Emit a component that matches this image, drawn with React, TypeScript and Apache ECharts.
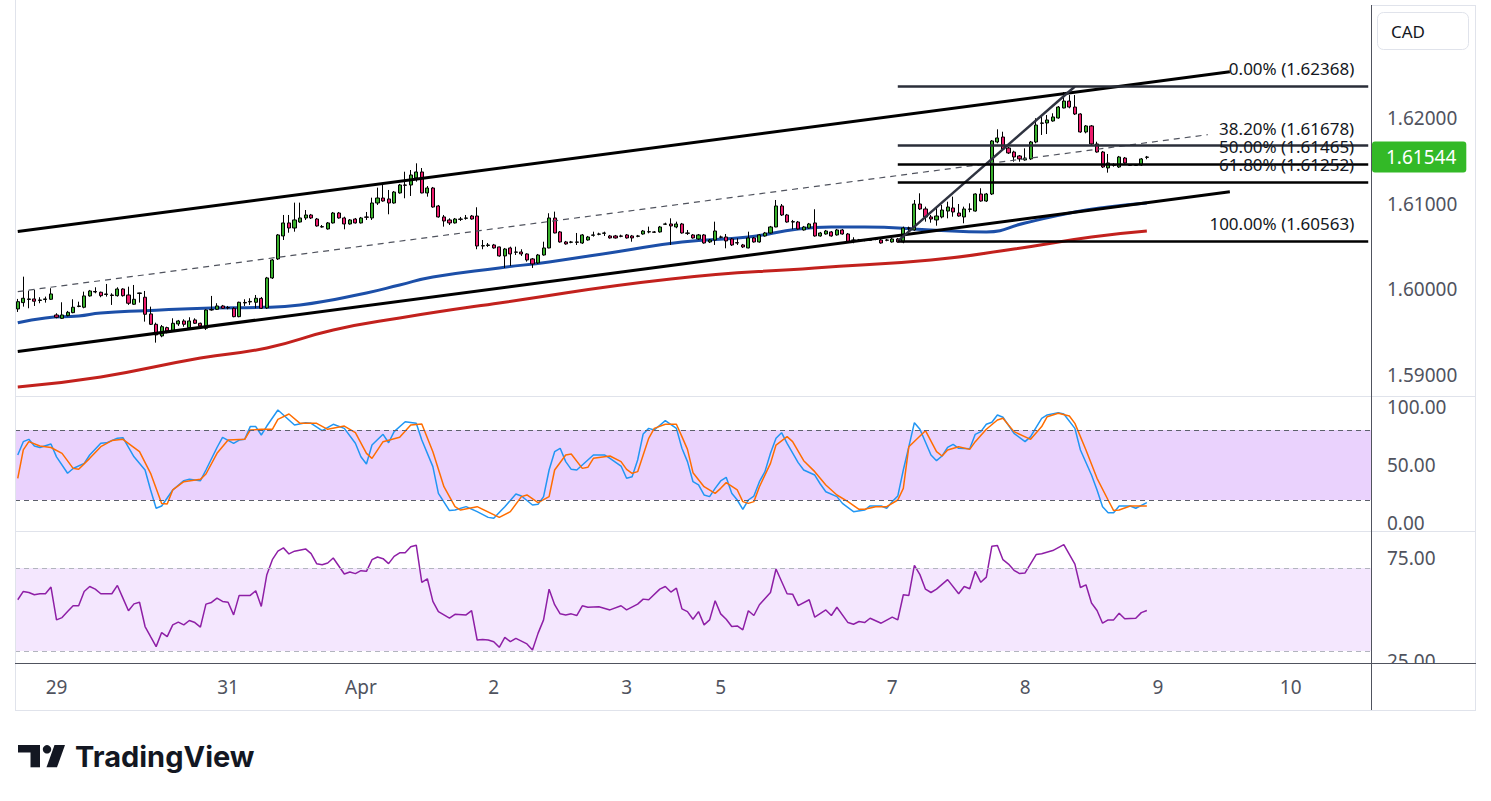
import { useEffect, useRef } from 'react';
import * as echarts from 'echarts';

const FONT = "'Noto Sans', 'Open Sans', sans-serif";

// hourly candles, [open, close, low, high]
const candles: number[][] = [
  [1.59771, 1.59856, 1.59736, 1.59888], [1.59845, 1.59896, 1.59798, 1.60148], [1.59888, 1.59882, 1.59779, 1.59985],
  [1.59888, 1.59861, 1.59806, 1.59993], [1.5987, 1.59876, 1.59838, 1.59908], [1.59882, 1.59888, 1.59845, 1.59915],
  [1.59884, 1.59946, 1.59876, 1.60013], [1.59701, 1.59674, 1.59662, 1.59721], [1.59662, 1.59701, 1.59654, 1.59849],
  [1.59693, 1.59732, 1.59684, 1.59748], [1.59728, 1.59791, 1.59721, 1.59884], [1.598, 1.59806, 1.59791, 1.59856],
  [1.59791, 1.59923, 1.59779, 1.59973], [1.59923, 1.59981, 1.59915, 1.59993], [1.59975, 1.59969, 1.59954, 1.60024],
  [1.59966, 1.59926, 1.59908, 1.59973], [1.5994, 1.59946, 1.59915, 1.60063], [1.59934, 1.59928, 1.59818, 1.59954],
  [1.59926, 1.60004, 1.59915, 1.60024], [1.60004, 1.59926, 1.59915, 1.60013], [1.59934, 1.59838, 1.59818, 1.60031],
  [1.59826, 1.59884, 1.59818, 1.60051], [1.59952, 1.59958, 1.59845, 1.59961], [1.59908, 1.59709, 1.59623, 1.59981],
  [1.59713, 1.59592, 1.59584, 1.59798], [1.59592, 1.59468, 1.59378, 1.59611], [1.59456, 1.59564, 1.59441, 1.59584],
  [1.59553, 1.59514, 1.59487, 1.59564], [1.59514, 1.59604, 1.59506, 1.59662], [1.59596, 1.59631, 1.59573, 1.59643],
  [1.59631, 1.59592, 1.59564, 1.59651], [1.59553, 1.59631, 1.59546, 1.59674], [1.59643, 1.59604, 1.59596, 1.59662],
  [1.59604, 1.59573, 1.59564, 1.59611], [1.59546, 1.59759, 1.59526, 1.59767], [1.59759, 1.59765, 1.59751, 1.59923],
  [1.59767, 1.59806, 1.59759, 1.59838], [1.59806, 1.59779, 1.59771, 1.59818], [1.59788, 1.59783, 1.59767, 1.59806],
  [1.59779, 1.59681, 1.59674, 1.59791], [1.59681, 1.59849, 1.59674, 1.59856], [1.59847, 1.59841, 1.59806, 1.59884],
  [1.59853, 1.59859, 1.59818, 1.59896], [1.59849, 1.59896, 1.59779, 1.59934], [1.59894, 1.59779, 1.59771, 1.59911],
  [1.59783, 1.60133, 1.59771, 1.60145], [1.60133, 1.60343, 1.60121, 1.60355], [1.60355, 1.60635, 1.60343, 1.60646],
  [1.60623, 1.60775, 1.60576, 1.60868], [1.60775, 1.60716, 1.60661, 1.60868], [1.60716, 1.6081, 1.60673, 1.61012],
  [1.60786, 1.60833, 1.60778, 1.61012], [1.60833, 1.60868, 1.6081, 1.60926], [1.60868, 1.60833, 1.60821, 1.6088],
  [1.60821, 1.6074, 1.60732, 1.60833], [1.60732, 1.60728, 1.6072, 1.60751], [1.60705, 1.60775, 1.60697, 1.60786],
  [1.60775, 1.60891, 1.60768, 1.60903], [1.60891, 1.60833, 1.60825, 1.60903], [1.60833, 1.60763, 1.60701, 1.60848],
  [1.60763, 1.6081, 1.60755, 1.60821], [1.60821, 1.60775, 1.60768, 1.60833], [1.60775, 1.60833, 1.60768, 1.60845],
  [1.60845, 1.60841, 1.6081, 1.60903], [1.60833, 1.61008, 1.6081, 1.6107], [1.61008, 1.61066, 1.60985, 1.61187],
  [1.61066, 1.61031, 1.61023, 1.61218], [1.61055, 1.61008, 1.60876, 1.6116], [1.61008, 1.61136, 1.61, 1.61148],
  [1.61125, 1.61218, 1.61117, 1.6123], [1.61218, 1.61215, 1.61063, 1.61373], [1.61218, 1.61335, 1.6109, 1.61393],
  [1.613, 1.6137, 1.61257, 1.61471], [1.6137, 1.61125, 1.61121, 1.61416], [1.61125, 1.61183, 1.61082, 1.61206],
  [1.61183, 1.60961, 1.60953, 1.61195], [1.60973, 1.60845, 1.60837, 1.60985], [1.60845, 1.60798, 1.60732, 1.60868],
  [1.6081, 1.60775, 1.60751, 1.60829], [1.60775, 1.60821, 1.60768, 1.60833], [1.60821, 1.60817, 1.60798, 1.60845],
  [1.60829, 1.60833, 1.60813, 1.60868], [1.60856, 1.60821, 1.60813, 1.60868], [1.60856, 1.60506, 1.60468, 1.60958],
  [1.60506, 1.6051, 1.60468, 1.60576], [1.60512, 1.60518, 1.60495, 1.60541], [1.60518, 1.60483, 1.60475, 1.6053],
  [1.60495, 1.6039, 1.60381, 1.60498], [1.6039, 1.60471, 1.6025, 1.60483], [1.60483, 1.60413, 1.60273, 1.60498],
  [1.60436, 1.60433, 1.60401, 1.60498], [1.60436, 1.60413, 1.6039, 1.60468], [1.60413, 1.60343, 1.60323, 1.60421],
  [1.60355, 1.60296, 1.6025, 1.60366], [1.60308, 1.60401, 1.60296, 1.60413], [1.60401, 1.60483, 1.60393, 1.60556],
  [1.60483, 1.60833, 1.60479, 1.60888], [1.60833, 1.60658, 1.60654, 1.60907], [1.6067, 1.60553, 1.60545, 1.60681],
  [1.60553, 1.6053, 1.60521, 1.60565], [1.60549, 1.60553, 1.60538, 1.60565], [1.60553, 1.60549, 1.60518, 1.60658],
  [1.60541, 1.60635, 1.6053, 1.60646], [1.60576, 1.60611, 1.60568, 1.60623], [1.60631, 1.60635, 1.60615, 1.60673],
  [1.60643, 1.60646, 1.60631, 1.60661], [1.60654, 1.60658, 1.60623, 1.60673], [1.60623, 1.606, 1.60592, 1.60635],
  [1.60623, 1.606, 1.60592, 1.60635], [1.60623, 1.60619, 1.60608, 1.60638], [1.60635, 1.606, 1.60592, 1.60646],
  [1.60623, 1.606, 1.60556, 1.60635], [1.60619, 1.60623, 1.60608, 1.60635], [1.60646, 1.60681, 1.60638, 1.60693],
  [1.6067, 1.60673, 1.60654, 1.60732], [1.6067, 1.60666, 1.60658, 1.60681], [1.6067, 1.60728, 1.60662, 1.6074],
  [1.6076, 1.60763, 1.60751, 1.60778], [1.60763, 1.6074, 1.60518, 1.60829], [1.60728, 1.60763, 1.60713, 1.6079],
  [1.60763, 1.60658, 1.6065, 1.60775], [1.60658, 1.60654, 1.60635, 1.60693], [1.60635, 1.606, 1.60592, 1.60646],
  [1.60588, 1.60635, 1.60576, 1.60646], [1.60635, 1.60541, 1.60533, 1.60646], [1.60553, 1.60576, 1.60541, 1.60588],
  [1.60576, 1.60681, 1.60518, 1.6079], [1.60611, 1.60608, 1.60596, 1.60627], [1.60611, 1.60565, 1.60479, 1.60646],
  [1.60588, 1.60518, 1.60506, 1.606], [1.60545, 1.60541, 1.60518, 1.60596], [1.60518, 1.60495, 1.60483, 1.6053],
  [1.60483, 1.606, 1.60479, 1.60673], [1.606, 1.60553, 1.60545, 1.60611], [1.60553, 1.60635, 1.60545, 1.60646],
  [1.60623, 1.60658, 1.60615, 1.6067], [1.60658, 1.60728, 1.6065, 1.6074], [1.60728, 1.60973, 1.60725, 1.61043],
  [1.60973, 1.60868, 1.60856, 1.60996], [1.60868, 1.60786, 1.60778, 1.6088], [1.6079, 1.60786, 1.60701, 1.6081],
  [1.60786, 1.60705, 1.60697, 1.60798], [1.60693, 1.60728, 1.60685, 1.6074], [1.60716, 1.60763, 1.60708, 1.60775],
  [1.60775, 1.60623, 1.60615, 1.60935], [1.60623, 1.60658, 1.60615, 1.6067], [1.60646, 1.60681, 1.60638, 1.60693],
  [1.6067, 1.60623, 1.60615, 1.60681], [1.60635, 1.60693, 1.60627, 1.60705], [1.60693, 1.60646, 1.60638, 1.60705],
  [1.60646, 1.60553, 1.60545, 1.60658], [1.60576, 1.60573, 1.60538, 1.60608], [1.60573, 1.60576, 1.60561, 1.60588],
  [1.60576, 1.60573, 1.60561, 1.60588], [1.60573, 1.60576, 1.60565, 1.60588], [1.60584, 1.60588, 1.60573, 1.606],
  [1.60576, 1.60541, 1.60533, 1.60588], [1.60576, 1.60573, 1.60561, 1.60588], [1.60553, 1.60588, 1.60545, 1.606],
  [1.60588, 1.60553, 1.60545, 1.606], [1.60553, 1.60716, 1.60538, 1.60732], [1.60716, 1.60713, 1.60673, 1.60732],
  [1.60693, 1.60996, 1.60685, 1.61043], [1.60996, 1.60938, 1.60926, 1.61121], [1.60938, 1.60845, 1.6079, 1.60965],
  [1.60845, 1.60821, 1.60778, 1.60868], [1.6081, 1.60856, 1.60743, 1.60973], [1.60845, 1.60926, 1.60829, 1.60985],
  [1.60914, 1.60961, 1.60829, 1.61023], [1.6095, 1.60903, 1.60848, 1.61082], [1.60891, 1.60856, 1.60848, 1.60996],
  [1.60845, 1.60938, 1.60771, 1.60965], [1.60934, 1.60938, 1.609, 1.61004], [1.60914, 1.61113, 1.60907, 1.61121],
  [1.61113, 1.61031, 1.61023, 1.6118], [1.61031, 1.61113, 1.6102, 1.61125], [1.61113, 1.61732, 1.61101, 1.61743],
  [1.6172, 1.61767, 1.61705, 1.61868], [1.61778, 1.61638, 1.61618, 1.6184], [1.6165, 1.61592, 1.6158, 1.61662],
  [1.61603, 1.61545, 1.6149, 1.61618], [1.61557, 1.61522, 1.6149, 1.61568], [1.6151, 1.61533, 1.61502, 1.61646],
  [1.61522, 1.6172, 1.6151, 1.61732], [1.6172, 1.61918, 1.61705, 1.61997], [1.61938, 1.61942, 1.61802, 1.62035],
  [1.61942, 1.61977, 1.61813, 1.62035], [1.61965, 1.62012, 1.61957, 1.62055], [1.62, 1.62128, 1.61992, 1.6214],
  [1.62117, 1.62198, 1.62113, 1.62303], [1.62198, 1.62128, 1.62113, 1.62268], [1.62128, 1.62047, 1.62035, 1.62268],
  [1.62047, 1.61837, 1.61828, 1.62055], [1.61837, 1.61907, 1.61821, 1.61918], [1.61907, 1.61697, 1.61685, 1.61918],
  [1.61697, 1.61603, 1.61595, 1.61723], [1.61603, 1.61428, 1.61417, 1.61615], [1.61417, 1.61475, 1.61362, 1.6158],
  [1.61452, 1.61448, 1.61432, 1.61471], [1.61428, 1.61545, 1.61417, 1.61557], [1.61533, 1.61475, 1.61467, 1.61545],
  [1.61452, 1.61448, 1.6144, 1.61463], [1.61448, 1.61452, 1.6144, 1.61463], [1.61452, 1.61522, 1.6144, 1.61533],
  [1.61541, 1.61544, 1.61518, 1.61557],
];

// moving averages, [candle index, value]
const blueMA = [
  [0, 1.59611], [5, 1.59666], [11, 1.59689], [15, 1.59724], [23, 1.59751], [35, 1.59783], [44, 1.5979],
  [51, 1.59818], [63, 1.59958], [69, 1.60051], [75, 1.60144], [87, 1.6025], [96, 1.6032], [108, 1.60436],
  [120, 1.60553], [132, 1.60611], [141, 1.60705], [147, 1.60728], [153, 1.60728], [165, 1.60693],
  [175, 1.6067], [182, 1.60775], [191, 1.60903], [197, 1.60961], [204, 1.61008],
];
const redMA = [
  [0, 1.58861], [15, 1.58978], [33, 1.59199], [45, 1.59316], [57, 1.59526], [69, 1.59666], [87, 1.59841],
  [118, 1.60121], [144, 1.6025], [165, 1.60343], [180, 1.60471], [194, 1.60611], [204, 1.60681],
];

const stochK = [
  [0, 58.6], [1, 70], [2, 72], [3, 66.3], [4, 65], [6, 68], [7, 57], [9, 42.9], [10, 47], [12, 51.4], [13, 58.6],
  [15, 68.6], [16, 69], [18, 72.9], [19, 73.4], [21, 57], [23, 45.7], [24, 28.6], [25, 12.9], [26, 14.9],
  [28, 28.6], [30, 36.6], [31, 37.7], [33, 36.6], [34, 45.7], [36, 65], [37, 73.7], [39, 68.6], [40, 71.4],
  [41, 72], [42, 82.9], [43, 82.9], [44, 75.7], [45, 83.4], [47, 97.1], [48, 92.9], [50, 84.3], [52, 86.3],
  [53, 85.7], [55, 79.4], [57, 84.9], [59, 81.4], [61, 68.6], [62, 57.1], [63, 50.9], [64, 67.1], [66, 76.3],
  [67, 69.1], [68, 78.6], [70, 87.1], [72, 85.7], [73, 71.4], [75, 48.6], [76, 25.7], [78, 10.9], [79, 11.4],
  [81, 14.3], [83, 10], [85, 5.1], [86, 4.3], [88, 14.3], [90, 25.1], [91, 23.4], [93, 15.7], [94, 16.3],
  [95, 22.9], [96, 45.7], [97, 61.4], [98, 64.3], [99, 52.9], [100, 46.3], [101, 45.7], [104, 58.6], [106, 58.6],
  [107, 55.7], [109, 49.1], [110, 38.6], [111, 40], [112, 54.3], [113, 76.6], [114, 81.4], [115, 80], [117, 88],
  [119, 81.4], [120, 64.3], [121, 52.9], [122, 35.7], [123, 32.9], [124, 24.3], [125, 22.9], [126, 30],
  [127, 36.3], [128, 39.4], [129, 25.7], [130, 20], [131, 12], [132, 20], [133, 23.4], [134, 35.7], [135, 44.3],
  [136, 60], [137, 72.9], [138, 77.7], [139, 68.6], [141, 52], [142, 45.7], [144, 41.4], [145, 33.7],
  [146, 27.1], [148, 22.9], [149, 17.1], [151, 10], [153, 11.4], [154, 14.9], [156, 14.9], [157, 12.9],
  [158, 18.6], [159, 23.4], [160, 45.7], [161, 65.7], [162, 86.3], [163, 80.6], [165, 58.6], [166, 53.7],
  [167, 57.7], [168, 65.1], [169, 67.7], [170, 64.3], [172, 64], [173, 76.3], [174, 78.6], [175, 84.9],
  [176, 86.6], [177, 92.9], [178, 90.9], [180, 77.1], [182, 70], [183, 74.3], [184, 82.3], [185, 90],
  [186, 92.9], [188, 94.9], [189, 93.7], [191, 81.4], [192, 62.9], [194, 41.4], [195, 28.6], [196, 14.3],
  [197, 9.1], [198, 9.1], [199, 14.9], [201, 14.9], [202, 12.9], [204, 17.7],
];
const stochD = [
  [0, 38.6], [1, 62.9], [2, 70], [4, 66.3], [6, 65], [8, 60], [10, 47.1], [11, 46.3], [13, 55.7], [15, 65.7],
  [17, 70.9], [19, 72], [22, 61.4], [24, 42.9], [26, 17.1], [27, 16.6], [28, 28.6], [30, 35.7], [33, 37.7],
  [34, 42.3], [36, 60], [38, 71.4], [41, 72], [42, 80], [44, 80.6], [46, 80.6], [47, 89.1], [49, 93.7],
  [51, 85.7], [54, 85.7], [56, 80.6], [59, 83.4], [61, 77.7], [63, 60], [64, 55.7], [66, 70], [69, 73.7],
  [71, 84.3], [73, 85.1], [75, 61.4], [77, 31.4], [79, 14.3], [80, 11.4], [83, 14.3], [87, 5.1], [89, 10],
  [91, 22.9], [92, 24.3], [94, 17.7], [96, 22.9], [97, 45.7], [99, 58.6], [100, 59.4], [102, 47.1], [103, 48],
  [104, 55.7], [107, 57.7], [109, 52.9], [110, 46.3], [111, 42.9], [112, 44.3], [113, 58.6], [114, 72.9],
  [115, 81.4], [117, 84.9], [119, 84.9], [120, 74.3], [121, 63.4], [122, 43.4], [124, 31.4], [126, 25.7],
  [127, 30], [128, 34.9], [130, 28.6], [131, 18.6], [132, 17.1], [133, 18.6], [134, 31.4], [136, 51.4],
  [137, 67.1], [139, 74.3], [140, 70], [142, 53.7], [144, 44.3], [146, 32.9], [148, 24.3], [150, 18.6],
  [152, 12], [153, 12], [155, 14.3], [157, 14.3], [159, 20], [160, 30], [161, 65.7], [164, 79.4], [166, 61.4],
  [167, 57.7], [168, 62.9], [170, 65.7], [172, 63.4], [173, 70], [175, 80.6], [177, 88.6], [178, 90],
  [180, 78.6], [183, 72], [185, 82.9], [186, 91.4], [188, 94.3], [190, 92], [191, 85.7], [193, 62.9],
  [195, 38.6], [197, 20], [198, 10.9], [199, 11.4], [201, 14.9], [204, 14.9],
];
const rsi = [
  [0, 54.7], [1, 58.7], [2, 58.2], [3, 57.1], [4, 57.6], [5, 57.6], [6, 60.8], [7, 45], [8, 46.1], [9, 49],
  [10, 51.8], [11, 51.8], [12, 58.7], [13, 61.1], [14, 59.8], [15, 57.6], [17, 57.6], [18, 61.6], [19, 55.5],
  [20, 49.4], [21, 52.7], [22, 53.5], [23, 41.8], [24, 36.9], [25, 32.1], [26, 38.9], [27, 36.9], [28, 42.6],
  [29, 43.9], [30, 42.6], [31, 44.7], [32, 43.7], [33, 41.5], [34, 52.6], [35, 53.4], [36, 55.5], [37, 53.9],
  [38, 53.5], [39, 47.4], [40, 56.8], [42, 56.8], [43, 59], [44, 51.5], [45, 66.8], [46, 74], [47, 78.1],
  [48, 79.7], [49, 76.8], [50, 78.1], [52, 79.2], [53, 76.9], [54, 72.1], [55, 71.6], [56, 72.4], [57, 74.8],
  [59, 67.1], [60, 68.1], [61, 67.3], [62, 68.7], [63, 68.4], [64, 74], [65, 75.3], [66, 74.5], [67, 72.1],
  [68, 75.6], [69, 77.3], [70, 77.3], [71, 80.2], [72, 81], [73, 63.1], [74, 64.8], [75, 53.9], [76, 49],
  [78, 45.8], [79, 47.7], [81, 47.4], [82, 49.5], [83, 35.3], [84, 35.6], [85, 35.3], [86, 34.5], [87, 31.8],
  [88, 36.6], [89, 34.5], [90, 36.1], [92, 33.4], [93, 30.5], [94, 38.5], [95, 45], [96, 59.8], [97, 52.3],
  [98, 47.9], [99, 47.4], [100, 47.9], [101, 47.1], [102, 51.8], [103, 51.1], [105, 51.3], [107, 49.8],
  [109, 51.8], [110, 49.8], [112, 52.6], [113, 55], [114, 54.7], [116, 59.8], [117, 61.1], [118, 58.4],
  [119, 60.3], [120, 50.3], [121, 49], [122, 45.3], [123, 49], [124, 42.6], [125, 45], [126, 54.2], [127, 47.9],
  [128, 45.3], [129, 41.8], [130, 42.1], [131, 40.2], [132, 49.4], [133, 47.1], [134, 52.3], [136, 58.2],
  [137, 69.5], [139, 57.6], [140, 57.4], [141, 51.9], [143, 54.7], [144, 46.3], [146, 49.8], [147, 47.1],
  [148, 51.1], [150, 43.7], [151, 42.9], [152, 44.2], [153, 43.7], [154, 45.8], [156, 43.4], [158, 46.3],
  [159, 45], [160, 57.1], [161, 56.8], [162, 71.3], [163, 66.8], [164, 59.8], [165, 58.2], [166, 59.8],
  [168, 64.4], [170, 57.6], [171, 61.1], [172, 60], [173, 68.4], [174, 63.1], [175, 65.6], [176, 80.5],
  [177, 80.8], [178, 74], [179, 71.9], [180, 68.9], [181, 67.3], [182, 67.6], [184, 76.5], [185, 76.9],
  [187, 78.4], [189, 81.3], [191, 71.9], [192, 60.6], [193, 61.9], [194, 53.1], [195, 49.5], [196, 43.4],
  [197, 45], [198, 45], [199, 48.2], [200, 45.5], [202, 45.8], [203, 48.5], [204, 49.5],
];

const slotCount = 245; // candles plus empty space to the right
const categories = Array.from({ length: slotCount }, (_, i) => String(i));
const timeTicks: [number, string][] = [
  [7, '29'], [38, '31'], [62, 'Apr'], [86, '2'], [110, '3'], [127, '5'], [158, '7'], [182, '8'], [206, '9'], [230, '10'],
];
const priceTicks = [1.59, 1.6, 1.61, 1.62];
const stochTicks = [0, 50, 100];
const rsiTicks = [25, 75];

// drawings
const channelUpper = [[0, 1.60674], [219, 1.62539]];
const channelLower = [[0, 1.59274], [219, 1.61139]];
const channelMid = [[0, 1.59974], [215, 1.61805]];
const fibTrend = [[159, 1.60563], [191, 1.62368]];
const fibStart = 159;
const fibEnd = 244;
const fibLevels = ['0.00%', '38.20%', '50.00%', '61.80%', '100.00%'];
const fibPrices = [1.62368, 1.61678, 1.61465, 1.61252, 1.60563];
const fibColors = ['#2a2e39', '#2a2e39', '#000000', '#000000', '#000000'];
const lastPrice = 1.61544;

const TEXT = '#50535e';

function segment(pts: number[][], color: string, width: number, type: any) {
  return [{ coord: pts[0], lineStyle: { color, width, type } }, { coord: pts[1] }];
}

export default function App() {
  const chartRef = useRef<HTMLDivElement>(null);

  useEffect(() => {
    if (!chartRef.current) return;
    const chart = echarts.init(chartRef.current, null, { renderer: 'svg' });
    const tickMap = new Map(timeTicks);

    const hiddenX = (gridIndex: number) => ({
      type: 'category' as const,
      gridIndex,
      data: categories,
      boundaryGap: true,
      axisLine: { show: false },
      axisTick: { show: false },
      axisLabel: { show: false },
      splitLine: { show: false },
    });

    const rightY = (gridIndex: number, min: number, max: number, ticks: number[], digits: number) => ({
      type: 'value' as const,
      gridIndex,
      position: 'right' as const,
      min,
      max,
      axisLine: { show: false },
      axisTick: { show: false },
      splitLine: { show: false },
      axisLabel: {
        customValues: ticks,
        formatter: (v: number) => v.toFixed(digits),
        color: TEXT,
        fontSize: 19,
        fontFamily: FONT,
        margin: 16,
      },
    });

    const fibLines = fibPrices.map((p, k) => [
      {
        coord: [fibStart, p],
        lineStyle: { color: fibColors[k], width: 2.5, type: 'solid' },
        label: {
          show: true,
          position: 'insideEndTop',
          formatter: `${fibLevels[k]} (${p.toFixed(5)})`,
          color: '#131722',
          fontSize: 17,
          fontFamily: FONT,
          distance: [14, 9],
        },
      },
      { coord: [fibEnd, p] },
    ]);

    const option: any = {
      animation: false,
      backgroundColor: '#ffffff',
      textStyle: { fontFamily: FONT },
      grid: [
        { left: 15, width: 1356, top: 5, height: 391 },
        { left: 15, width: 1356, top: 396, height: 135 },
        { left: 15, width: 1356, top: 531, height: 132 },
      ],
      xAxis: [
        hiddenX(0),
        hiddenX(1),
        {
          ...hiddenX(2),
          axisLabel: {
            show: true,
            interval: (index: number) => tickMap.has(index),
            formatter: (_v: string, index: number) => tickMap.get(index) ?? '',
            color: TEXT,
            fontSize: 19,
            fontFamily: FONT,
            margin: 14,
          },
        },
      ],
      yAxis: [
        rightY(0, 1.58755, 1.63319, priceTicks, 5),
        rightY(1, -6.57, 109.14, stochTicks, 2),
        rightY(2, 24.22, 87.83, rsiTicks, 2),
      ],
      series: [
        {
          type: 'line',
          xAxisIndex: 0,
          yAxisIndex: 0,
          data: blueMA,
          smooth: true,
          symbol: 'none',
          silent: true,
          lineStyle: { color: '#1c4fa8', width: 3 },
          z: 2,
        },
        {
          type: 'line',
          xAxisIndex: 0,
          yAxisIndex: 0,
          data: redMA,
          smooth: true,
          symbol: 'none',
          silent: true,
          lineStyle: { color: '#c2211d', width: 3 },
          z: 2,
        },
        {
          type: 'candlestick',
          xAxisIndex: 0,
          yAxisIndex: 0,
          data: candles,
          barWidth: 3.6,
          silent: true,
          z: 3,
          itemStyle: {
            color: '#38b02c',
            color0: '#ec1c6c',
            borderColor: '#000000',
            borderColor0: '#000000',
            borderWidth: 1,
          },
          markLine: {
            silent: true,
            symbol: ['none', 'none'],
            animation: false,
            precision: 5,
            label: { show: false },
            data: [
              segment(channelUpper, '#000000', 3, 'solid'),
              segment(channelLower, '#000000', 3, 'solid'),
              segment(channelMid, '#50535e', 1.2, [6, 5]),
              segment(fibTrend, '#2f3340', 2.5, 'solid'),
              ...fibLines,
            ],
          },
        },
        {
          // carries the last-price tag on the price axis
          type: 'line',
          xAxisIndex: 0,
          yAxisIndex: 0,
          data: [],
          silent: true,
          z: 20,
          markLine: {
            silent: true,
            symbol: ['none', 'none'],
            animation: false,
            precision: 5,
            lineStyle: { color: 'rgba(0,0,0,0)', width: 1 },
            label: {
              show: true,
              position: 'end',
              distance: 1,
              formatter: lastPrice.toFixed(5),
              color: '#ffffff',
              fontSize: 19,
              fontFamily: FONT,
              lineHeight: 21,
              backgroundColor: '#33b927',
              borderRadius: 3,
              padding: [5, 10, 5, 14],
            },
            data: [{ yAxis: lastPrice }],
          },
        },
        {
          type: 'line',
          xAxisIndex: 1,
          yAxisIndex: 1,
          data: stochK,
          symbol: 'none',
          silent: true,
          lineStyle: { color: '#2196f3', width: 1.5 },
          markArea: {
            silent: true,
            itemStyle: { color: '#ead2fd' },
            data: [[{ yAxis: 20 }, { yAxis: 80 }]],
          },
          markLine: {
            silent: true,
            symbol: ['none', 'none'],
            label: { show: false },
            lineStyle: { color: '#5d606b', width: 1, type: [5, 4] },
            data: [{ yAxis: 80 }, { yAxis: 20 }],
          },
        },
        {
          type: 'line',
          xAxisIndex: 1,
          yAxisIndex: 1,
          data: stochD,
          symbol: 'none',
          silent: true,
          lineStyle: { color: '#ff6d00', width: 1.5 },
        },
        {
          type: 'line',
          xAxisIndex: 2,
          yAxisIndex: 2,
          data: rsi,
          symbol: 'none',
          silent: true,
          lineStyle: { color: '#8e1fa6', width: 1.5 },
          markArea: {
            silent: true,
            itemStyle: { color: '#f4e7fe' },
            data: [[{ yAxis: 30 }, { yAxis: 70 }]],
          },
          markLine: {
            silent: true,
            symbol: ['none', 'none'],
            label: { show: false },
            lineStyle: { color: '#b2b5be', width: 1, type: [5, 4] },
            data: [{ yAxis: 70 }, { yAxis: 30 }],
          },
        },
      ],
      graphic: [
        // frame and pane separators
        { type: 'line', z: 50, shape: { x1: 15.5, y1: 0, x2: 15.5, y2: 710 }, style: { stroke: '#e0e3eb', lineWidth: 1 } },
        { type: 'line', z: 50, shape: { x1: 15, y1: 710.5, x2: 1476, y2: 710.5 }, style: { stroke: '#e0e3eb', lineWidth: 1 } },
        { type: 'line', z: 50, shape: { x1: 1475.5, y1: 5, x2: 1475.5, y2: 710 }, style: { stroke: '#e0e3eb', lineWidth: 1 } },
        { type: 'line', z: 50, shape: { x1: 1371, y1: 5.5, x2: 1476, y2: 5.5 }, style: { stroke: '#e0e3eb', lineWidth: 1 } },
        { type: 'line', z: 50, shape: { x1: 15, y1: 396.5, x2: 1476, y2: 396.5 }, style: { stroke: '#e0e3eb', lineWidth: 1 } },
        { type: 'line', z: 50, shape: { x1: 15, y1: 531.5, x2: 1476, y2: 531.5 }, style: { stroke: '#e0e3eb', lineWidth: 1 } },
        // cover under the last pane so its lowest label is cut like the original
        { type: 'rect', z: 90, shape: { x: 1372, y: 664, width: 103, height: 46 }, style: { fill: '#ffffff' } },
        { type: 'line', z: 95, shape: { x1: 15, y1: 663.5, x2: 1476, y2: 663.5 }, style: { stroke: '#50535e', lineWidth: 1 } },
        { type: 'line', z: 95, shape: { x1: 1371.5, y1: 5, x2: 1371.5, y2: 710 }, style: { stroke: '#50535e', lineWidth: 1 } },
        // currency box
        {
          type: 'rect',
          z: 60,
          shape: { x: 1377.5, y: 12.5, width: 91, height: 37, r: 6 },
          style: { fill: '#ffffff', stroke: '#e0e3eb', lineWidth: 1 },
        },
        {
          type: 'text',
          z: 61,
          x: 1391,
          y: 31,
          style: { text: 'CAD', fill: '#131722', fontSize: 17, fontFamily: FONT, verticalAlign: 'middle' },
        },
        // TradingView logo
        { type: 'rect', z: 60, shape: { x: 18, y: 745, width: 22, height: 7.5 }, style: { fill: '#131722' } },
        { type: 'rect', z: 60, shape: { x: 30.5, y: 745, width: 9.5, height: 22.3 }, style: { fill: '#131722' } },
        { type: 'circle', z: 60, shape: { cx: 47, cy: 749.3, r: 4.2 }, style: { fill: '#131722' } },
        {
          type: 'polygon',
          z: 60,
          shape: { points: [[54.5, 745], [65, 745], [57, 767.3], [46.5, 767.3]] },
          style: { fill: '#131722' },
        },
        {
          type: 'text',
          z: 60,
          x: 75,
          y: 756,
          style: {
            text: 'TradingView',
            fill: '#131722',
            fontSize: 29,
            fontWeight: 700,
            fontFamily: "Inter, 'Noto Sans', sans-serif",
            verticalAlign: 'middle',
          },
        },
      ],
    };

    chart.setOption(option);

    return () => {
      chart.dispose();
    };
  }, []);

  return <div ref={chartRef} style={{ position: 'absolute', left: 0, top: 0, width: 1491, height: 801 }} />;
}
